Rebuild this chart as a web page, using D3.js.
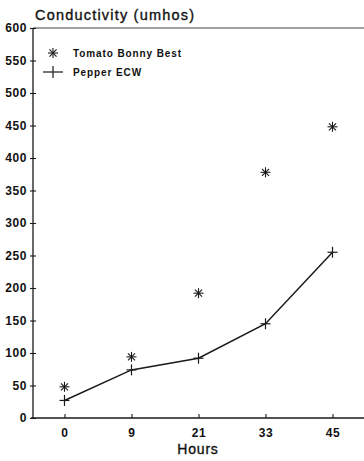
<!DOCTYPE html>
<html>
<head>
<meta charset="utf-8">
<script src="https://cdn.jsdelivr.net/npm/d3@7"></script>
<style>
  html, body { margin: 0; padding: 0; background: #fff; }
  svg { display: block; }
  text { font-family: "Liberation Sans", Arial, sans-serif; fill: #111; }
</style>
</head>
<body>
<svg id="chart" width="364" height="461"></svg>
<script>
// Conductivity of leachate over time, two seed lots
const hours = ["0", "9", "21", "33", "45"];
const tomato = [48, 94, 192, 378, 448];
const pepper = [27, 74, 92, 145, 255];
const yTicks = [0, 50, 100, 150, 200, 250, 300, 350, 400, 450, 500, 550, 600];

const svg = d3.select("#chart");
const ink = "#1a1a1a";

const x = d3.scalePoint().domain(hours).range([33, 364]).padding(0.47);
const y = d3.scaleLinear().domain([0, 600]).range([418, 28]);

// frame: left axis, bottom axis, top rule
svg.append("line").attr("x1", 33).attr("x2", 33).attr("y1", 28).attr("y2", 418)
  .attr("stroke", ink).attr("stroke-width", 1.3);
svg.append("line").attr("x1", 31).attr("x2", 364).attr("y1", 418).attr("y2", 418)
  .attr("stroke", ink).attr("stroke-width", 1.3);
svg.append("line").attr("x1", 33).attr("x2", 364).attr("y1", 28).attr("y2", 28)
  .attr("stroke", "#444").attr("stroke-width", 1.1);

// y axis
const yAxis = d3.axisLeft(y).tickValues(yTicks).tickSizeInner(-3).tickSizeOuter(0).tickPadding(6);
const gy = svg.append("g").attr("transform", "translate(33,0)").call(yAxis);
gy.select(".domain").remove();
gy.selectAll(".tick line").attr("x1", -3).attr("x2", 3).attr("stroke", ink).attr("stroke-width", 1.1);
gy.selectAll(".tick text")
  .attr("x", -6)
  .style("font-family", "'Liberation Sans', Arial, sans-serif")
  .style("font-size", "12px").style("font-weight", "bold")
  .style("letter-spacing", "0.6px").attr("fill", ink);

// x axis
const xAxis = d3.axisBottom(x).tickSizeInner(-4).tickSizeOuter(0).tickPadding(10);
const gx = svg.append("g").attr("transform", "translate(0,418)").call(xAxis);
gx.select(".domain").remove();
gx.selectAll(".tick line").attr("stroke", ink).attr("stroke-width", 1.1);
gx.selectAll(".tick text")
  .style("font-family", "'Liberation Sans', Arial, sans-serif")
  .style("font-size", "12px").style("font-weight", "bold")
  .style("letter-spacing", "0.6px").attr("fill", ink);

// titles
svg.append("text").attr("x", 35).attr("y", 20)
  .style("font-size", "14.5px").style("letter-spacing", "1.2px")
  .attr("stroke", "#111").attr("stroke-width", 0.35)
  .text("Conductivity (umhos)");
svg.append("text").attr("x", 198).attr("y", 454).attr("text-anchor", "middle")
  .style("font-size", "14px").style("letter-spacing", "0.8px")
  .attr("stroke", "#111").attr("stroke-width", 0.35)
  .text("Hours");

// markers
function asterisk(g, cx, cy, r) {
  [0, 45, 90, 135].forEach(a => {
    const t = a * Math.PI / 180;
    g.append("line")
      .attr("x1", cx - r * Math.sin(t)).attr("y1", cy - r * Math.cos(t))
      .attr("x2", cx + r * Math.sin(t)).attr("y2", cy + r * Math.cos(t))
      .attr("stroke", ink).attr("stroke-width", 1.1);
  });
}
function plus(g, cx, cy, hw, hh) {
  g.append("line").attr("x1", cx - hw).attr("x2", cx + hw).attr("y1", cy).attr("y2", cy)
    .attr("stroke", ink).attr("stroke-width", 1.2);
  g.append("line").attr("x1", cx).attr("x2", cx).attr("y1", cy - hh).attr("y2", cy + hh)
    .attr("stroke", ink).attr("stroke-width", 1.2);
}

// pepper line
const line = d3.line().x((d, i) => x(hours[i])).y(d => y(d));
svg.append("path").datum(pepper).attr("d", line)
  .attr("fill", "none").attr("stroke", ink).attr("stroke-width", 1.5);

const marks = svg.append("g");
tomato.forEach((v, i) => asterisk(marks, x(hours[i]), y(v), 5));
pepper.forEach((v, i) => plus(marks, x(hours[i]), y(v), 5, 5.5));

// legend
const lg = svg.append("g");
asterisk(lg, 53, 53, 5);
plus(lg, 53, 72, 10, 6);
lg.append("text").attr("x", 73).attr("y", 57)
  .style("font-size", "10px").style("font-weight", "bold").style("letter-spacing", "0.9px")
  .text("Tomato Bonny Best");
lg.append("text").attr("x", 73).attr("y", 76)
  .style("font-size", "10px").style("font-weight", "bold").style("letter-spacing", "0.9px")
  .text("Pepper ECW");
</script>
</body>
</html>
